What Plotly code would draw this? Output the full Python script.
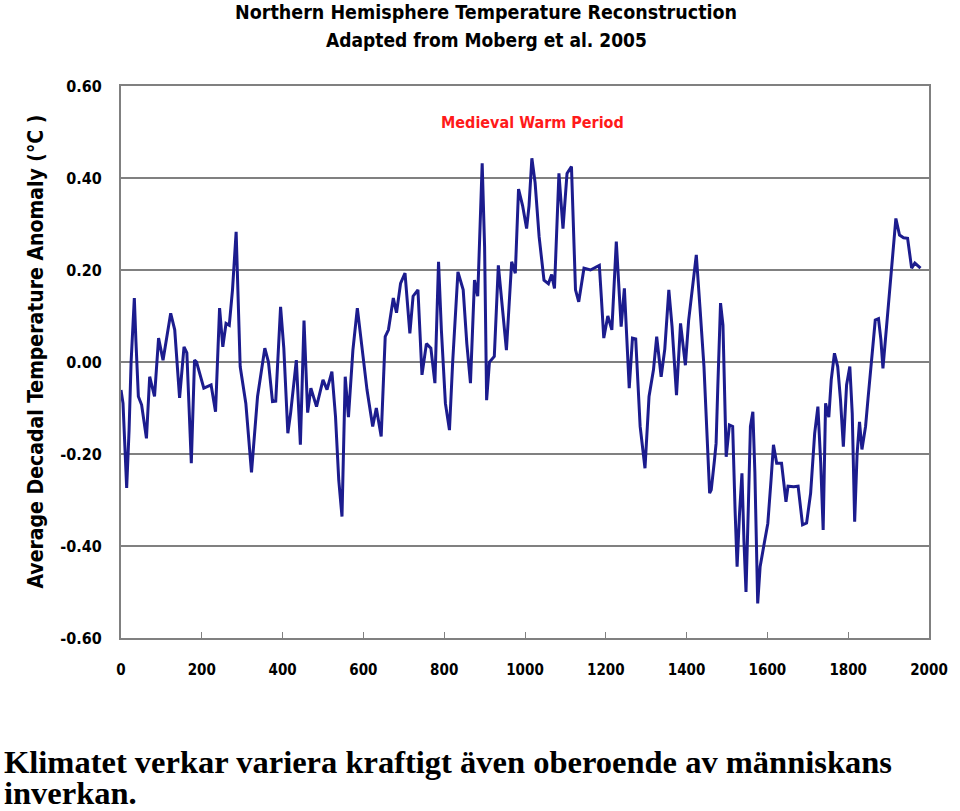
import plotly.graph_objects as go

years = [0, 5, 14, 20, 25, 33, 37, 43, 51, 63, 71, 80, 83, 93, 104, 123, 133, 145, 156, 163,
         174, 182, 187, 205, 223, 234, 244, 252, 260, 268, 276, 285, 290, 295, 309, 323, 338,
         356, 365, 375, 383, 395, 403, 413, 420, 434, 444, 453, 462, 470, 484, 500, 510, 522,
         531, 539, 547, 555, 563, 574, 585, 594, 609, 623, 632, 644, 654, 662, 674, 682, 692,
         703, 715, 723, 735, 745, 756, 767, 777, 786, 793, 803, 813, 821, 834, 847, 856, 865,
         875, 883, 894, 900, 905, 912, 924, 934, 943, 954, 967, 976, 984, 994, 1004, 1010,
         1017, 1025, 1035, 1047, 1058, 1066, 1073, 1084, 1094, 1104, 1115, 1120, 1125, 1133,
         1146, 1162, 1184, 1189, 1195, 1205, 1215, 1226, 1233, 1238, 1246, 1252, 1258, 1266,
         1274, 1285, 1297, 1307, 1318, 1326, 1337, 1346, 1356, 1364, 1375, 1385, 1391, 1397,
         1405, 1416, 1424, 1433, 1443, 1457, 1461, 1469, 1473, 1477, 1484, 1490, 1494, 1498,
         1506, 1514, 1520, 1525, 1531, 1537, 1542, 1547, 1553, 1558, 1564, 1569, 1576, 1582,
         1591, 1601, 1609, 1615, 1623, 1635, 1646, 1651, 1665, 1676, 1687, 1697, 1707, 1717,
         1725, 1732, 1738, 1744, 1752, 1758, 1766, 1774, 1781, 1788, 1796, 1804, 1810, 1816,
         1822, 1828, 1834, 1843, 1849, 1855, 1862, 1867, 1875, 1881, 1886, 1892, 1900, 1908,
         1918, 1927, 1937, 1947, 1953, 1957, 1965, 1973, 1979]

anomaly = [-0.061, -0.09, -0.274, -0.148, 0.0, 0.139, 0.044, -0.075, -0.093, -0.166, -0.032,
           -0.061, -0.075, 0.052, 0.004, 0.106, 0.07, -0.078, 0.033, 0.02, -0.22, 0.004, 0.0,
           -0.057, -0.05, -0.108, 0.117, 0.033, 0.084, 0.08, 0.157, 0.283, 0.157, -0.01, -0.09,
           -0.24, -0.075, 0.03, 0.0, -0.086, -0.085, 0.12, 0.03, -0.155, -0.11, 0.004, -0.18,
           0.09, -0.11, -0.057, -0.097, -0.039, -0.06, -0.021, -0.119, -0.257, -0.336, -0.032,
           -0.12, 0.026, 0.117, 0.055, -0.061, -0.14, -0.1, -0.162, 0.055, 0.07, 0.139, 0.107,
           0.171, 0.193, 0.062, 0.143, 0.157, -0.028, 0.04, 0.03, -0.046, 0.218, 0.07, -0.09,
           -0.148, 0.0, 0.196, 0.157, 0.04, -0.046, 0.178, 0.143, 0.432, 0.25, -0.083, 0.0,
           0.012, 0.21, 0.12, 0.026, 0.218, 0.193, 0.376, 0.34, 0.29, 0.34, 0.443, 0.39, 0.272,
           0.178, 0.17, 0.19, 0.16, 0.41, 0.29, 0.41, 0.425, 0.29, 0.157, 0.131, 0.204, 0.2,
           0.21, 0.14, 0.052, 0.1, 0.07, 0.262, 0.147, 0.077, 0.16, 0.048, -0.057, 0.052, 0.05,
           -0.14, -0.231, -0.075, -0.017, 0.055, -0.032, 0.028, 0.157, 0.077, -0.072, 0.084,
           0.04, -0.007, 0.09, 0.178, 0.233, 0.12, -0.01, -0.285, -0.278, -0.213, -0.177,
           -0.061, 0.128, 0.08, -0.083, -0.206, -0.137, -0.14, -0.322, -0.445, -0.33, -0.242,
           -0.39, -0.5, -0.31, -0.14, -0.108, -0.24, -0.525, -0.445, -0.40, -0.351, -0.257,
           -0.18, -0.22, -0.22, -0.304, -0.27, -0.271, -0.27, -0.354, -0.35, -0.285, -0.155,
           -0.097, -0.22, -0.365, -0.09, -0.12, -0.039, 0.019, -0.01, -0.083, -0.184, -0.05,
           -0.01, -0.112, -0.347, -0.2, -0.13, -0.19, -0.14, -0.08, -0.025, 0.048, 0.091,
           0.094, 0.048, -0.014, 0.048, 0.135, 0.222, 0.312, 0.276, 0.27, 0.269, 0.236, 0.204,
           0.215, 0.208, 0.204]

x_ticks = [0, 200, 400, 600, 800, 1000, 1200, 1400, 1600, 1800, 2000]
y_ticks = [0.6, 0.4, 0.2, 0.0, -0.2, -0.4, -0.6]
y_tick_labels = ["0.60", "0.40", "0.20", "0.00", "-0.20", "-0.40", "-0.60"]

NARROW = "Liberation Sans Narrow, DejaVu Sans Condensed, Arial Narrow, sans-serif"
SERIF = "Liberation Serif, Times New Roman, serif"

W, H = 960, 811
L, R, T, B = 121, 26, 86, 173
PH = H - T - B
PW = W - L - R


def py(y_page):
    return (H - B - y_page) / PH


def px(x_page):
    return (x_page - L) / PW


fig = go.Figure()
fig.add_trace(go.Scatter(x=years, y=anomaly, mode="lines",
                         line=dict(color="#1c1c8e", width=3), showlegend=False))

fig.update_layout(
    width=W, height=H,
    margin=dict(l=L, r=R, t=T, b=B),
    paper_bgcolor="white", plot_bgcolor="white",
    xaxis=dict(range=[0, 2000], tickvals=x_ticks, ticktext=[str(v) for v in x_ticks],
               showgrid=False, zeroline=False, showline=True, linecolor="#808080",
               linewidth=2, mirror=True, ticks="inside", ticklen=6, tickcolor="#808080",
               tickwidth=1, ticklabelstandoff=17,
               tickfont=dict(family=NARROW, size=15, color="black", weight="bold")),
    yaxis=dict(range=[-0.6, 0.6], tickvals=y_ticks, ticktext=y_tick_labels,
               showgrid=True, gridcolor="#808080", gridwidth=2, zeroline=False,
               showline=True, linecolor="#808080", linewidth=2, mirror=True,
               ticks="", ticklabelstandoff=14,
               tickfont=dict(family=NARROW, size=16, color="black", weight="bold")),
)

fig.add_annotation(text="<b>Northern Hemisphere Temperature Reconstruction</b>",
                   xref="paper", yref="paper", x=px(488), y=py(12),
                   showarrow=False, xanchor="center", yanchor="middle",
                   font=dict(family=NARROW, size=19.5, color="black"))
fig.add_annotation(text="<b>Adapted from Moberg et al. 2005</b>",
                   xref="paper", yref="paper", x=px(489), y=py(40),
                   showarrow=False, xanchor="center", yanchor="middle",
                   font=dict(family=NARROW, size=19, color="black"))
fig.add_annotation(text="<b>Medieval Warm Period</b>",
                   xref="x", yref="y", x=1018, y=0.52,
                   showarrow=False, xanchor="center", yanchor="middle",
                   font=dict(family=NARROW, size=16, color="#ff1a1a"))
fig.add_annotation(text="<b>Average Decadal Temperature Anomaly (°C )</b>",
                   xref="paper", yref="paper", x=px(35), y=py(352),
                   textangle=-90, showarrow=False, xanchor="center", yanchor="middle",
                   font=dict(family=NARROW, size=21, color="black"))
fig.add_annotation(text="<b>Klimatet verkar variera kraftigt även oberoende av människans</b>",
                   xref="paper", yref="paper", x=px(1), y=py(762),
                   showarrow=False, xanchor="left", yanchor="middle", align="left",
                   font=dict(family=SERIF, size=32.5, color="black"))
fig.add_annotation(text="<b>inverkan.</b>",
                   xref="paper", yref="paper", x=px(1), y=py(793),
                   showarrow=False, xanchor="left", yanchor="middle", align="left",
                   font=dict(family=SERIF, size=32.5, color="black"))

fig.write_html("out.html", config={"displayModeBar": False},
               post_script="document.body.style.margin='0';document.body.style.padding='0';")
